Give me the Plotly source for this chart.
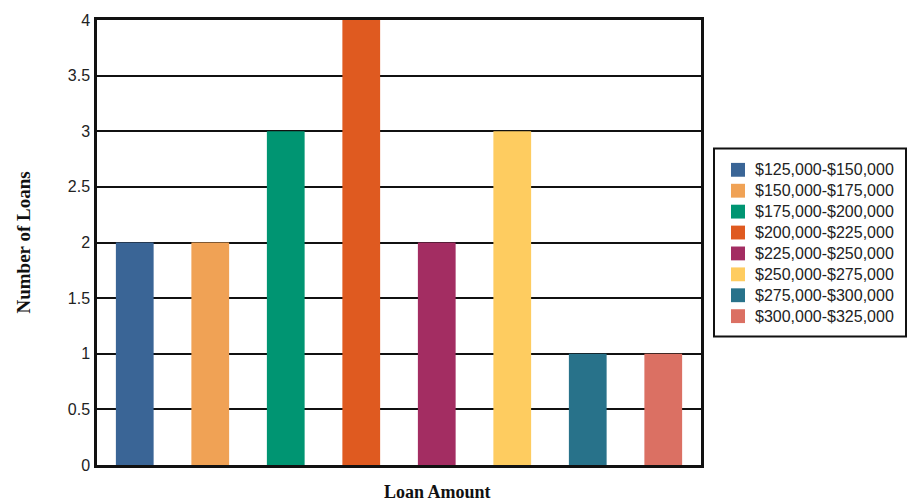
import plotly.graph_objects as go

# Loan amount ranges and how many loans fall in each
ranges = [
    "$125,000-$150,000",
    "$150,000-$175,000",
    "$175,000-$200,000",
    "$200,000-$225,000",
    "$225,000-$250,000",
    "$250,000-$275,000",
    "$275,000-$300,000",
    "$300,000-$325,000",
]
loan_counts = [2, 2, 3, 4, 2, 3, 1, 1]
bar_colors = [
    "#3A6596", "#F0A255", "#009572", "#DF5A20",
    "#A32D62", "#FECC60", "#28728A", "#DB7063",
]
y_ticks = [0, 0.5, 1, 1.5, 2, 2.5, 3, 3.5, 4]

fig = go.Figure()
for name, count, color in zip(ranges, loan_counts, bar_colors):
    fig.add_trace(go.Bar(
        x=[name], y=[count], name=name,
        marker=dict(color=color, line=dict(width=0)),
        showlegend=False,
    ))

W, H = 913, 504
L, R, T, B = 97, 212, 15, 39
plot_w = W - L - R
plot_h = H - T - B
serif = "Liberation Serif, Times New Roman, serif"
sans = "Arial, Liberation Sans, sans-serif"


def px_x(x):
    """Pixel column -> paper x."""
    return (x - L) / plot_w


def px_y(y):
    """Pixel row -> paper y."""
    return (H - B - y) / plot_h


# Boxed key to the right of the plot
box_l, box_r, box_t, box_b = 714, 906, 145, 335
sw_l, sw_size = 731, 14
row0, row_step = 166.5, 21.14
text_x = 753

shapes = [
    dict(type="rect", xref="paper", yref="paper",
         x0=px_x(box_l), x1=px_x(box_r), y0=px_y(box_b), y1=px_y(box_t),
         line=dict(color="#111111", width=2), fillcolor="white", layer="above"),
]
annotations = []
for i, (name, color) in enumerate(zip(ranges, bar_colors)):
    cy = row0 + i * row_step
    shapes.append(dict(
        type="rect", xref="paper", yref="paper",
        x0=px_x(sw_l), x1=px_x(sw_l + sw_size),
        y0=px_y(cy + sw_size / 2), y1=px_y(cy - sw_size / 2),
        line=dict(width=0), fillcolor=color, layer="above",
    ))
    annotations.append(dict(
        text=name, xref="paper", yref="paper",
        x=px_x(text_x), y=px_y(cy),
        xanchor="left", yanchor="middle", showarrow=False,
        font=dict(family=sans, size=16, color="#222222"),
    ))

annotations += [
    dict(
        text="<b>Number of Loans</b>",
        xref="paper", yref="paper",
        x=px_x(23), y=0.5,
        xanchor="center", yanchor="middle",
        textangle=-90, showarrow=False,
        font=dict(family=serif, size=19, color="#111111"),
    ),
    dict(
        text="<b>Loan Amount</b>",
        xref="paper", yref="paper",
        x=px_x(437), y=px_y(492),
        xanchor="center", yanchor="middle",
        showarrow=False,
        font=dict(family=serif, size=18, color="#111111"),
    ),
]

fig.update_layout(
    width=W, height=H,
    margin=dict(l=L, r=R, t=T, b=B, pad=0),
    paper_bgcolor="white",
    plot_bgcolor="white",
    barmode="relative",
    bargap=0.5,
    showlegend=False,
    font=dict(family=sans, size=16, color="#222222"),
    xaxis=dict(
        type="category",
        categoryorder="array", categoryarray=ranges,
        showticklabels=False, ticks="",
        showgrid=False,
        showline=True, linecolor="#111111", linewidth=2.5, mirror=True,
        zeroline=False,
    ),
    yaxis=dict(
        range=[0, 4],
        tickvals=y_ticks,
        ticktext=[f"{v:g}" for v in y_ticks],
        tickfont=dict(family=sans, size=16, color="#222222"),
        ticks="outside", ticklen=1, tickcolor="rgba(0,0,0,0)",
        showgrid=True, gridcolor="#111111", gridwidth=2,
        showline=True, linecolor="#111111", linewidth=2.5, mirror=True,
        zeroline=False,
    ),
    shapes=shapes,
    annotations=annotations,
)

fig.write_html("out.html")
